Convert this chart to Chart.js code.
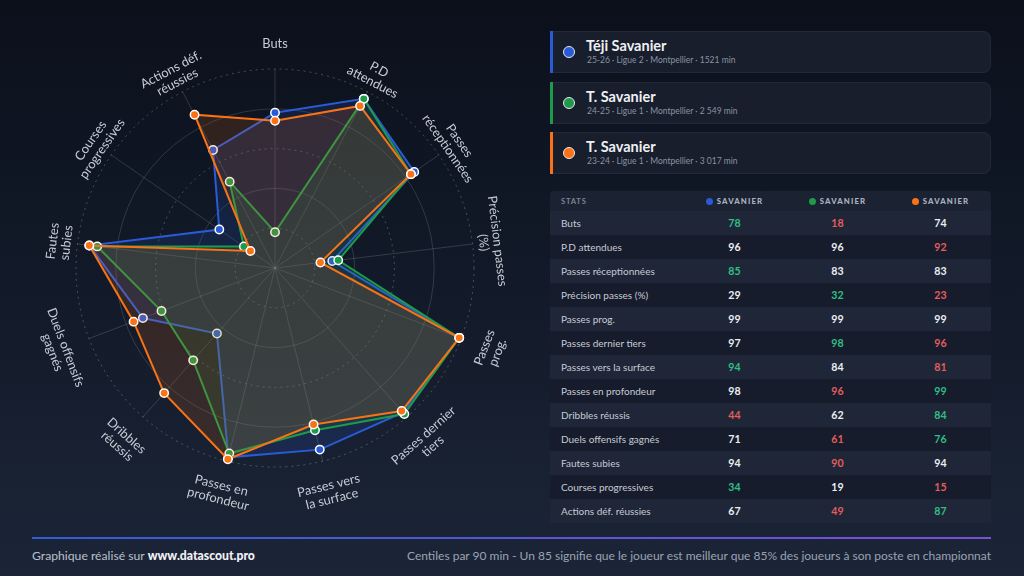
<!DOCTYPE html>
<html><head><meta charset="utf-8">
<script src="https://cdn.jsdelivr.net/npm/chart.js@4.4.1/dist/chart.umd.min.js"></script>
<style>
html,body{margin:0;padding:0;width:1024px;height:576px;overflow:hidden;}
body{background:linear-gradient(180deg,#0b101b 0%,#121a29 50%,#1c2537 100%);font-family:'Lato',sans-serif;position:relative;}
#radarWrap{position:absolute;left:0;top:0;width:545px;height:530px;}
.card{position:absolute;left:550px;width:440px;height:40px;background:#181e2c;border:1px solid #222a3a;border-left:none;border-radius:0 8px 8px 0;}
.card .bar{position:absolute;left:0;top:-1px;bottom:-1px;width:3px;}
.card .dot{position:absolute;left:13px;top:14px;width:10px;height:10px;border:1.6px solid #e8eaf0;border-radius:50%;}
.card .name{position:absolute;left:36px;top:5px;font-weight:700;font-size:14.5px;color:#eef0f4;line-height:18px;}
.card .sub{position:absolute;left:37px;top:23px;font-size:8.5px;color:#8a93a3;line-height:10px;}
#table{position:absolute;left:550px;top:191px;width:441px;}
.hrow{height:20px;background:#1b2232;border-radius:4px 4px 0 0;position:relative;}
.row{height:24px;position:relative;}
.row.even{background:#1f2637;}
.row.odd{background:#161c2b;}
.lbl{position:absolute;left:11px;top:0;line-height:24px;font-size:10px;color:#c6cbd4;}
.hlbl{position:absolute;left:11px;top:0;line-height:20px;font-size:7.6px;color:#7c8595;letter-spacing:0.8px;font-weight:700;}
.num{position:absolute;width:103px;text-align:center;top:0;line-height:24px;font-size:10.6px;font-weight:700;}
.hnum{position:absolute;width:103px;text-align:center;top:0;line-height:20px;font-size:7.8px;font-weight:900;color:#aab2c0;letter-spacing:1.1px;}
.hnum i{display:inline-block;width:7px;height:7px;border-radius:50%;margin-right:4px;vertical-align:-0.5px;}
#fline{position:absolute;left:32px;top:537px;width:959px;height:2px;background:linear-gradient(90deg,#2f5fd0,#7b4fd6);}
#fleft{position:absolute;left:32px;top:548px;font-size:12.2px;color:#b9c0cc;line-height:16px;}
#fleft b{color:#f0f2f6;font-weight:900;}
#fright{position:absolute;right:33px;top:548px;font-size:12px;color:#9aa3b2;line-height:16px;text-align:right;}
</style></head>
<body>
<div id="radarWrap"><canvas id="radar"></canvas></div>
<div id="cards"></div>
<div id="table"></div>
<div id="fline"></div>
<div id="fleft">Graphique réalisé sur <b>www.datascout.pro</b></div>
<div id="fright">Centiles par 90 min - Un 85 signifie que le joueur est meilleur que 85% des joueurs à son poste en championnat</div>
<script>
const categories = ['Buts','P.D attendues','Passes réceptionnées','Précision passes (%)','Passes prog.','Passes dernier tiers','Passes vers la surface','Passes en profondeur','Dribbles réussis','Duels offensifs gagnés','Fautes subies','Courses progressives','Actions déf. réussies'];
const radarLabels = [['Buts'],['P.D','attendues'],['Passes','réceptionnées'],['Précision passes','(%)'],['Passes','prog.'],['Passes dernier','tiers'],['Passes vers','la surface'],['Passes en','profondeur'],['Dribbles','réussis'],['Duels offensifs','gagnés'],['Fautes','subies'],['Courses','progressives'],['Actions déf.','réussies']];
const playerNames = ['Téji Savanier','T. Savanier','T. Savanier'];
const playerInfo = ['25-26 · Ligue 2 · Montpellier · 1521 min','24-25 · Ligue 1 · Montpellier · 2 549 min','23-24 · Ligue 1 · Montpellier · 3 017 min'];
const columnHeads = ['SAVANIER','SAVANIER','SAVANIER'];
const season2526 = [78,96,85,29,99,97,94,98,44,71,94,34,67];
const season2425 = [18,96,83,32,99,98,84,96,62,61,90,19,49];
const season2324 = [74,92,83,23,99,96,81,99,84,76,94,15,87];
const tickValues = [0,20,40,60,80,100];

const colors = ['#2a5bd7','#1f9a4b','#f97316'];
const fills = ['rgba(42,91,215,0.16)','rgba(31,154,75,0.15)','rgba(249,115,22,0.15)'];
const series = [season2526, season2425, season2324];

const cardsEl = document.getElementById('cards');
playerNames.forEach((n,i)=>{
  const c = document.createElement('div'); c.className='card'; c.style.top=(31+i*50.5)+'px';
  c.innerHTML = `<div class="bar" style="background:${colors[i]}"></div><div class="dot" style="background:${colors[i]}"></div><div class="name">${n}</div><div class="sub">${playerInfo[i]}</div>`;
  cardsEl.appendChild(c);
});
const tbl = document.getElementById('table');
let html = '<div class="hrow"><div class="hlbl">STATS</div>';
columnHeads.forEach((h,j)=>{ html += `<div class="hnum" style="left:${133+j*103}px"><i style="background:${colors[j]}"></i>${h}</div>`; });
html += '</div>';
categories.forEach((cat,i)=>{
  const v = series.map(s=>s[i]);
  const mx = Math.max(...v), mn = Math.min(...v);
  const nmx = v.filter(x=>x===mx).length, nmn = v.filter(x=>x===mn).length;
  html += `<div class="row ${i%2===0?'even':'odd'}"><div class="lbl">${cat}</div>`;
  v.forEach((x,j)=>{
    let col = '#eceef2';
    if (x===mx && nmx===1) col = '#2fbf86';
    else if (x===mn && nmn===1) col = '#e35d5d';
    html += `<div class="num" style="left:${133+j*103}px;color:${col}">${x}</div>`;
  });
  html += '</div>';
});
tbl.innerHTML = html;

const labelPlugin = {
  id:'rotLabels',
  afterDraw(chart){
    const s = chart.scales.r; const ctx = chart.ctx;
    ctx.save();
    ctx.font = '12.8px Lato'; ctx.fillStyle = '#c6cbd4';
    ctx.textAlign='center'; ctx.textBaseline='middle';
    radarLabels.forEach((lines,i)=>{
      const ang = s.getIndexAngle(i);
      const p = s.getPointPosition(i, s.drawingArea + 25);
      const deg = ang*180/Math.PI;
      const rot = (deg>90 && deg<270) ? ang-Math.PI : ang;
      ctx.save(); ctx.translate(p.x,p.y); ctx.rotate(rot);
      lines.forEach((ln,k)=>ctx.fillText(ln,0,k*14));
      ctx.restore();
    });
    ctx.restore();
  }
};

new Chart(document.getElementById('radar'), {
  type:'radar',
  data:{
    labels: categories,
    datasets: series.map((s,i)=>({
      label: playerNames[i], data: s, borderColor: colors[i], backgroundColor: fills[i],
      borderWidth: 2, pointRadius: 4.2, pointBorderWidth: 1.5, pointBorderColor:'#ffffff',
      pointBackgroundColor: colors[i], fill: true, order: 3-i
    }))
  },
  options:{
    responsive:true, maintainAspectRatio:false, animation:false,
    layout:{padding:{left:76,top:69,right:71,bottom:63}},
    plugins:{legend:{display:false},tooltip:{enabled:false}},
    events:[],
    scales:{ r:{
      min:0,max:100,
      afterBuildTicks(scale){ scale.ticks = tickValues.map(v=>({value:v})); },
      ticks:{display:false,stepSize:20},
      pointLabels:{display:false},
      angleLines:{color:'rgba(255,255,255,0.15)',lineWidth:1},
      grid:{circular:true,lineWidth:1,color:(c)=>c.index%2===1?'rgba(255,255,255,0.24)':'rgba(255,255,255,0.14)'},
      border:{dash:(c)=>c.index%2===1?[2,4]:[]}
    }}
  },
  plugins:[labelPlugin]
});
</script>
</body></html>
